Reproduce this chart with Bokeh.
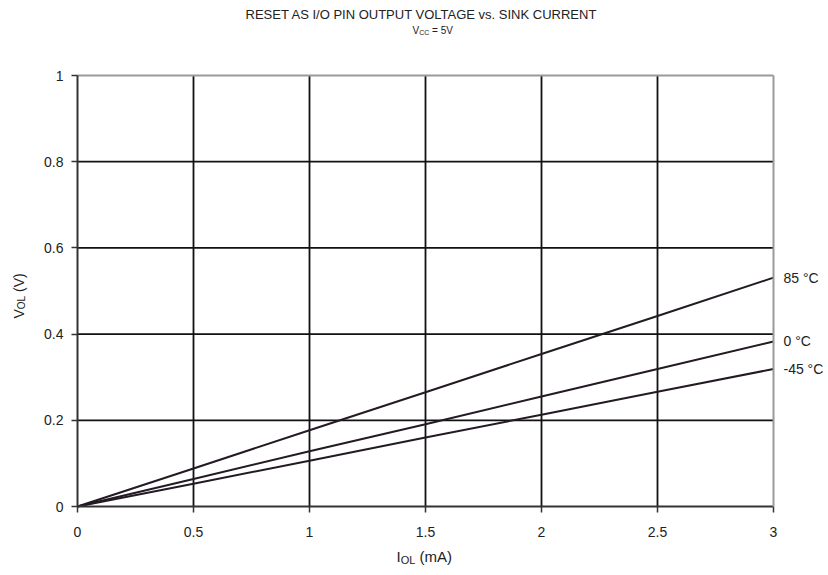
from bokeh.plotting import figure
from bokeh.models import Range1d, FixedTicker, Label, LabelSet, ColumnDataSource, LinearAxis
from bokeh.core.properties import value
from bokeh.embed import file_html
from bokeh.resources import INLINE
import math

# ---- data ----
current_ma = [0, 0.5, 1, 1.5, 2, 2.5, 3]
v_85c = [0, 0.088, 0.177, 0.265, 0.354, 0.442, 0.531]
v_0c = [0, 0.064, 0.128, 0.191, 0.255, 0.319, 0.383]
v_m45c = [0, 0.053, 0.106, 0.160, 0.213, 0.266, 0.319]
series_names = ["85 °C", "0 °C", "-45 °C"]
x_ticks = [0, 0.5, 1, 1.5, 2, 2.5, 3]
x_tick_labels = ["0", "0.5", "1", "1.5", "2", "2.5", "3"]
y_ticks = [0, 0.2, 0.4, 0.6, 0.8, 1]
y_tick_labels = ["0", "0.2", "0.4", "0.6", "0.8", "1"]
title_text = "RESET AS I/O PIN OUTPUT VOLTAGE vs. SINK CURRENT"

FONT = "Liberation Sans"
W, H = 828, 575
# plot-area edges on the canvas (px)
PL, PR, PT, PB = 77, 773, 75, 506
XMIN, XMAX = x_ticks[0], x_ticks[-1]
YMIN, YMAX = y_ticks[0], y_ticks[-1]
SX = (PR - PL) / (XMAX - XMIN)
SY = (PB - PT) / (YMAX - YMIN)
x_start = XMIN - PL / SX
x_end = XMAX + (W - PR) / SX
y_start = YMIN - (H - PB) / SY
y_end = YMAX + PT / SY

def X(px):
    return x_start + px / SX

def Y(py):
    return y_end - py / SY

p = figure(width=W, height=H, output_backend="svg", toolbar_location=None,
           x_range=Range1d(x_start, x_end), y_range=Range1d(y_start, y_end),
           x_axis_location=None, y_axis_location=None, min_border=0)
p.frame_width = W
p.frame_height = H
p.background_fill_color = "white"
p.border_fill_color = "white"
p.outline_line_color = None
p.xgrid.visible = False
p.ygrid.visible = False

# grid lines at inner ticks, within the plot area
gx = x_ticks[1:-1]
gy = y_ticks[1:-1]
p.segment(x0=gx, y0=[YMIN] * len(gx), x1=gx, y1=[YMAX] * len(gx),
          line_color="#111111", line_width=1.8)
p.segment(x0=[XMIN] * len(gy), y0=gy, x1=[XMAX] * len(gy), y1=gy,
          line_color="#111111", line_width=1.8)

# top & right border (gray)
top = LinearAxis(fixed_location=YMAX, bounds=(XMIN, XMAX), ticker=FixedTicker(ticks=[]),
                 axis_line_color="#9a9a9a", axis_line_width=2,
                 major_tick_line_color=None, minor_tick_line_color=None,
                 major_label_text_color=None)
right = LinearAxis(fixed_location=XMAX, bounds=(YMIN, YMAX), ticker=FixedTicker(ticks=[]),
                   axis_line_color="#9a9a9a", axis_line_width=2,
                   major_tick_line_color=None, minor_tick_line_color=None,
                   major_label_text_color=None)
p.add_layout(top, "above")
p.add_layout(right, "right")

# main axes
xax = LinearAxis(fixed_location=YMIN, bounds=(XMIN, XMAX), ticker=FixedTicker(ticks=x_ticks),
                 major_label_overrides={t: l for t, l in zip(x_ticks, x_tick_labels)})
yax = LinearAxis(fixed_location=XMIN, bounds=(YMIN, YMAX), ticker=FixedTicker(ticks=y_ticks),
                 major_label_overrides={t: l for t, l in zip(y_ticks, y_tick_labels)})
for ax in (xax, yax):
    ax.axis_line_color = "#333333"
    ax.axis_line_width = 2
    ax.major_tick_line_color = "#333333"
    ax.major_tick_line_width = 1.5
    ax.major_tick_out = 6
    ax.major_tick_in = 0
    ax.minor_tick_line_color = None
    ax.major_label_text_font = FONT
    ax.major_label_text_font_size = "14px"
    ax.major_label_text_color = "#222222"
xax.major_label_standoff = 14
yax.major_label_standoff = 8
p.add_layout(xax, "below")
p.add_layout(yax, "left")

# series
for vals in (v_85c, v_0c, v_m45c):
    p.line(current_ma, vals, line_color="#231a23", line_width=2)

end_src = ColumnDataSource(dict(x=[current_ma[-1]] * 3,
                                y=[v_85c[-1], v_0c[-1], v_m45c[-1]],
                                t=series_names))
p.add_layout(LabelSet(x="x", y="y", text="t", source=end_src, x_offset=10,
                      text_font=value(FONT), text_font_size=value("14px"),
                      text_color=value("#222222"),
                      text_baseline="middle", text_align="left"))

def lab(px, py, text, size, align="left", angle=0.0, baseline="middle"):
    p.add_layout(Label(x=X(px), y=Y(py), text=text, text_font=FONT, text_font_size=size,
                       text_color="#222222", text_align=align, text_baseline=baseline,
                       angle=angle))

# title
lab(421, 14, title_text, "13px", align="center")
# subtitle V_CC = 5V
sx0 = 412
lab(sx0, 30, "V", "10px")
lab(sx0 + 6.7, 32, "CC", "7px")
lab(sx0 + 19.6, 30, "= 5V", "10px")

# x axis label I_OL (mA)
xs0 = 396
lab(xs0, 556, "I", "15px")
lab(xs0 + 4.2, 559, "OL", "11px")
lab(xs0 + 23.1, 556, "(mA)", "15px")

# y axis label V_OL (V) (reads bottom to top)
ys0 = 318
lab(18, ys0, "V", "14px", angle=math.pi / 2)
lab(21, ys0 - 9.3, "OL", "10px", angle=math.pi / 2)
lab(18, ys0 - 26.5, "(V)", "14px", angle=math.pi / 2)

open("out.html", "w").write(file_html(p, INLINE))
